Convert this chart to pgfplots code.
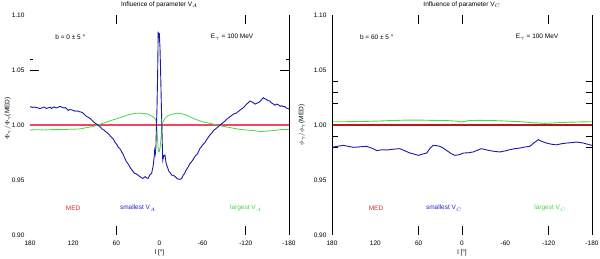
\documentclass[border=0pt]{standalone}
\usepackage{fontspec}
\setmainfont{Liberation Sans}
\usepackage{pgfplots}
\pgfplotsset{compat=1.18}
\definecolor{cblue}{RGB}{25,25,170}
\definecolor{cgreen}{RGB}{70,215,70}
\definecolor{cred}{RGB}{240,70,95}
\definecolor{cdred}{RGB}{190,20,30}
\definecolor{tred}{RGB}{230,40,40}
\definecolor{tblue}{RGB}{35,35,200}
\definecolor{tgreen}{RGB}{70,215,70}
\pgfplotsset{panel/.style={
  scale only axis, height=220pt,
  xmin=-180, xmax=180, ymin=0.90, ymax=1.10, x dir=reverse,
  axis line style={draw=none}, clip=false,
  xtick={180,120,60,0,-60,-120,-180},
  ytick={0.90,0.95,1.00,1.05,1.10},
  major tick length=0pt,
  tick style={black, line width=0.8pt},
  /pgf/number format/assume math mode=true,
  tick label style={font=\fontsize{6.5}{7}\selectfont},
  yticklabel style={/pgf/number format/.cd, fixed, fixed zerofill, precision=2, /tikz/.cd, xshift=-2pt},
  xticklabel style={/pgf/number format/.cd, fixed, /tikz/.cd, yshift=-2pt},
  extra x ticks={60,-120}, extra x tick labels={},
  extra x tick style={major tick length=9pt},
  title style={font=\fontsize{6.5}{7}\selectfont, inner sep=1pt},
  xlabel style={font=\fontsize{6.5}{7}\selectfont, at={(axis description cs:0.5,-0.082)}, anchor=center},
  ylabel style={font=\fontsize{6.5}{7}\selectfont, rotate=0, anchor=center},
  xlabel={l [°]},
}}
\begin{document}
\begin{tikzpicture}
\useasboundingbox (0,0) rectangle (600pt,258pt);
% ---------------- left panel ----------------
\begin{axis}[panel, at={(30pt,23pt)}, anchor=south west, width=259pt,
  title={Influence of parameter V$_A$},
  ylabel={$\Phi_\gamma/\Phi_\gamma$(MED)},
  ylabel style={at={(axis description cs:-0.085,0.53)}},
  extra y ticks={1.05}, extra y tick labels={},
  extra y tick style={major tick length=9pt},
  minor ytick={1.06}, minor tick length=3pt]
\addplot[draw=cred, line width=1.3pt] coordinates {(180,1.00) (-180,1.00)};
\addplot[draw=cgreen, line width=0.8pt] coordinates {
(180,0.9955) (170,0.9957) (160,0.9955) (150,0.9958) (140,0.9958) (130,0.9960)
(120,0.9962) (111,0.9964) (100,0.9978) (93,0.9985) (86,1.0000) (80,1.0012)
(72,1.0030) (64,1.0048) (57,1.0062) (50,1.0078) (42,1.0095) (35,1.0105)
(28,1.0108) (22,1.0105) (16,1.0100) (13.6,1.0090) (8,1.0070) (5,1.0045)
(3.5,0.9960) (2.5,0.9850) (1.5,0.9760) (0.5,0.9757) (-1,0.9800) (-3,0.9955)
(-5,1.0030) (-7.6,1.0060) (-11,1.0082) (-14.6,1.0092) (-20,1.0102) (-25,1.0108)
(-28.5,1.0106) (-35,1.0095) (-41,1.0080) (-47,1.0060) (-55,1.0040) (-62,1.0025)
(-70,1.0015) (-77,1.0005) (-84,0.9994) (-95,0.9980) (-105,0.9968) (-112,0.9960)
(-120,0.9955) (-130,0.9950) (-140,0.9940) (-150,0.9945) (-160,0.9950) (-170,0.9960)
(-180,0.9960)};
\addplot[draw=cblue, line width=0.9pt] coordinates {
(180,1.0167) (177,1.0160) (174,1.0163) (170,1.0158) (167,1.0150) (165,1.0152)
(162,1.0160) (160,1.0163) (157,1.0150) (155,1.0155) (152,1.0162) (150,1.0150)
(148,1.0160) (146,1.0165) (144,1.0155) (142,1.0158) (139,1.0168) (137,1.0167)
(135,1.0160) (133,1.0155) (131,1.0158) (129,1.0148) (127,1.0132) (125,1.0140)
(122,1.0138) (119,1.0130) (117,1.0125) (114,1.0128) (111,1.0120) (109,1.0118)
(107,1.0112) (104,1.0095) (102,1.0080) (99,1.0070) (97,1.0062) (94,1.0045)
(92,1.0030) (88,1.0010) (85.5,1.0000) (82,0.9980) (80,0.9965) (77,0.9955)
(75,0.9940) (71.6,0.9924) (69,0.9905) (67,0.9890) (64,0.9870) (62,0.9845)
(59,0.9820) (57.7,0.9800) (55,0.9785) (53,0.9760) (51,0.9740) (49,0.9710)
(46,0.9667) (44,0.9650) (42,0.9630) (40,0.9605) (38,0.9590) (36,0.9570)
(34.5,0.9560) (32,0.9555) (30,0.9545) (28,0.9535) (27,0.9530) (25,0.9520)
(23,0.9515) (21,0.9525) (20,0.9530) (18,0.9520) (16,0.9515) (14.5,0.9530)
(13.6,0.9545) (11,0.9560) (9,0.9620) (7.5,0.9700) (6.7,0.9770) (5.8,0.9740)
(5,0.9800) (4.4,0.9955) (3.5,1.0150) (2.5,1.0500) (1.8,1.0848) (1.0,1.0790)
(0.3,1.0836) (-0.7,1.0700) (-1.5,1.0500) (-2.5,1.0200) (-3.1,1.0045)
(-4.0,0.9800) (-4.5,0.9680) (-6,0.9720) (-7.6,0.9727) (-9,0.9660) (-10,0.9636)
(-13,0.9580) (-15,0.9565) (-17,0.9545) (-20,0.9540) (-22,0.9530) (-25,0.9510)
(-27,0.9508) (-28.5,0.9506) (-31,0.9515) (-33,0.9545) (-35,0.9560) (-37,0.9590)
(-40,0.9620) (-42.4,0.9650) (-44,0.9660) (-46,0.9680) (-48,0.9700) (-50,0.9720)
(-53,0.9740) (-56.3,0.9788) (-58,0.9800) (-60,0.9820) (-63,0.9840) (-65,0.9860)
(-68,0.9890) (-70.2,0.9910) (-73,0.9930) (-75,0.9950) (-78,0.9965) (-80,0.9975)
(-84.1,1.0000) (-87,1.0015) (-90,1.0030) (-93,1.0050) (-95,1.0060) (-98,1.0076)
(-100,1.0085) (-103,1.0100) (-106,1.0105) (-108,1.0115) (-110,1.0125) (-112,1.0136)
(-115,1.0150) (-117,1.0160) (-119,1.0175) (-121,1.0190) (-123,1.0200) (-125.8,1.0218)
(-128,1.0210) (-130,1.0205) (-133,1.0190) (-135,1.0197) (-138,1.0205) (-140,1.0215)
(-142,1.0232) (-144.3,1.0248) (-146,1.0240) (-148,1.0235) (-151,1.0222) (-153.6,1.0218)
(-155,1.0205) (-157,1.0195) (-159,1.0188) (-160.5,1.0180) (-163,1.0190) (-165,1.0185)
(-168,1.0170) (-170,1.0175) (-172,1.0167) (-174,1.0168) (-176,1.0155) (-178,1.0152)
(-180,1.0145)};
\draw[black, line width=0.8pt] (axis cs:-180,0.90) -- (axis cs:-180,1.10);
\node[font=\fontsize{6.5}{7}\selectfont] at (axis cs:124,1.08) {b = 0 ± 5 °};
\node[font=\fontsize{6.5}{7}\selectfont] at (axis cs:-101,1.08) {E$_\gamma$ = 100 MeV};
\node[font=\fontsize{6.5}{7}\selectfont, text=tred] at (axis cs:120,0.9245) {MED};
\node[font=\fontsize{6.5}{7}\selectfont, text=tblue] at (axis cs:30,0.9245) {smallest V$_A$};
\node[font=\fontsize{6.5}{7}\selectfont, text=tgreen] at (axis cs:-120,0.9245) {largest V$_A$};
\end{axis}
% ---------------- right panel ----------------
\begin{axis}[panel, at={(332pt,23pt)}, anchor=south west, width=260pt,
  title={Influence of parameter V$_C$},
  ylabel={$\phi_\gamma/\phi_\gamma$(MED)},
  ylabel style={at={(axis description cs:-0.115,0.5)}},
  extra x ticks={60,0,-120},
  extra y ticks={1.04,1.03,1.02,0.99,0.98}, extra y tick labels={},
  extra y tick style={major tick length=6pt}]
\addplot[draw=cdred, line width=1.2pt] coordinates {(180,1.00) (-180,1.00)};
\addplot[draw=cgreen, line width=0.9pt] coordinates {
(180,1.0030) (160,1.0030) (140,1.0032) (120,1.0035) (100,1.0040) (80,1.0044)
(70,1.0045) (55,1.0044) (40,1.0042) (20,1.0040) (8,1.0035) (0,1.0028)
(-10,1.0040) (-25,1.0042) (-45,1.0040) (-60,1.0036) (-80,1.0030) (-100,1.0020)
(-115,1.0015) (-125,1.0018) (-145,1.0025) (-165,1.0028) (-180,1.0030)};
\addplot[draw=cblue, line width=0.9pt] coordinates {
(180,0.9800) (178,0.9800) (171,0.9808) (164,0.9815) (157,0.9805) (150,0.9797)
(141,0.9802) (132,0.9806) (125,0.9790) (118,0.9767) (111,0.9775) (104,0.9773)
(95,0.9780) (86,0.9785) (79,0.9765) (72,0.9745) (66,0.9735) (60.5,0.9724)
(55,0.9735) (49,0.9745) (44,0.9790) (40,0.9815) (35,0.9812) (30.5,0.9806)
(26,0.9790) (21,0.9767) (15,0.9740) (9.7,0.9724) (4,0.9730) (-2,0.9745)
(-9,0.9748) (-15.6,0.9755) (-21,0.9770) (-27,0.9785) (-33,0.9775) (-38.8,0.9767)
(-45,0.9760) (-52.6,0.9755) (-60,0.9765) (-66.5,0.9776) (-73,0.9785) (-80,0.9790)
(-87,0.9800) (-94,0.9806) (-100,0.9840) (-105.6,0.9866) (-111,0.9850) (-117,0.9836)
(-124,0.9825) (-131,0.9820) (-138,0.9830) (-145,0.9836) (-152,0.9840) (-159,0.9845)
(-164,0.9840) (-168,0.9836) (-174,0.9825) (-180,0.9815)};
\draw[black, line width=0.8pt] (axis cs:180,0.90) -- (axis cs:180,1.10);
\draw[black, line width=0.8pt] (axis cs:-180,0.90) -- (axis cs:-180,1.10);
\node[font=\fontsize{6.5}{7}\selectfont] at (axis cs:118,1.08) {b = 60 ± 5 °};
\node[font=\fontsize{6.5}{7}\selectfont] at (axis cs:-104,1.08) {E$_\gamma$ = 100 MeV};
\node[font=\fontsize{6.5}{7}\selectfont, text=tred] at (axis cs:119,0.9245) {MED};
\node[font=\fontsize{6.5}{7}\selectfont, text=tblue] at (axis cs:25,0.9245) {smallest V$_C$};
\node[font=\fontsize{6.5}{7}\selectfont, text=tgreen] at (axis cs:-122,0.9245) {largest V$_C$};
\end{axis}
\end{tikzpicture}
\end{document}
